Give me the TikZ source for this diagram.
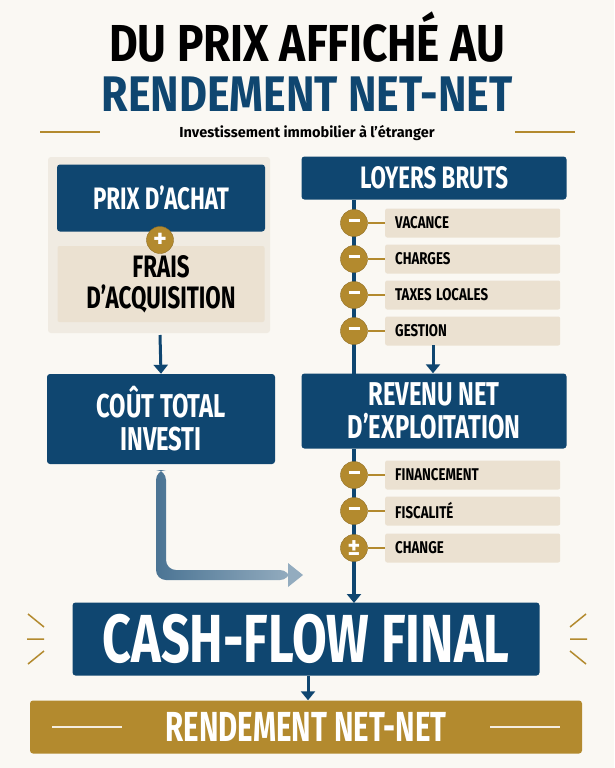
\documentclass[tikz,border=0pt]{standalone}
\usepackage{fontspec}
\setmainfont{Fira Sans}
\usetikzlibrary{arrows.meta}
\definecolor{bg}{HTML}{FAF8F3}
\definecolor{navy}{HTML}{0F4670}
\definecolor{gold}{HTML}{B38A2E}
\definecolor{panel}{HTML}{F0EBE2}
\definecolor{tan}{HTML}{EBE1D1}
\newcommand{\cnd}[2][0.75]{\scalebox{#1}[1]{#2}}
\begin{document}
\begin{tikzpicture}[x=1pt,y=-1pt,
  bluebox/.style={fill=navy,rounded corners=3pt,text=white,font=\bfseries,align=center},
  tanbox/.style={fill=tan,rounded corners=2pt,font=\bfseries\fontsize{17}{18}\selectfont,anchor=west,inner sep=0pt,align=left},
  circ/.style={circle,fill=gold,draw=gold!80!black,minimum size=27pt,inner sep=0pt,text=white},
  arr/.style={navy,line width=3pt,-{Triangle[length=9pt,width=14pt]}},
  gl/.style={gold,line width=1.5pt}]
\fill[bg] (0,0) rectangle (614,768);
\useasboundingbox (0,0) rectangle (614,768);
\node[inner sep=0pt] (t1) at (307,37) {\fontsize{52}{52}\selectfont\bfseries\cnd[0.85]{DU PRIX AFFICHÉ AU}};
\node[inner sep=0pt,text=navy] (t2) at (307,94) {\fontsize{50}{50}\selectfont\bfseries\cnd[0.86]{RENDEMENT NET-NET}};
\node[inner sep=0pt] (sub) at (307,133) {\fontsize{14.5}{15}\selectfont\bfseries Investissement immobilier à l’étranger};
\draw[gl] (40,132) -- (100,132); \draw[gl] (515,132) -- (575,132);
% left
\fill[panel,rounded corners=3pt] (48,157) rectangle (270,333);
\node[bluebox,minimum width=208pt,minimum height=67pt,font=\bfseries\fontsize{31}{33}\selectfont] (pa) at (161,198) {\cnd[0.72]{PRIX D’ACHAT}};
\node[tanbox,anchor=center,minimum width=207pt,minimum height=76pt,font=\bfseries\fontsize{31}{31}\selectfont,align=center] (fa) at (161,284) {\cnd[0.72]{FRAIS}\\\cnd[0.72]{D’ACQUISITION}};
\node[circ] (plus) at (160,240) {\fontsize{26}{26}\selectfont\bfseries +};
\node[bluebox,minimum width=228pt,minimum height=90pt,font=\bfseries\fontsize{33}{33}\selectfont] (ct) at (161,419) {\cnd[0.72]{COÛT TOTAL}\\\cnd[0.72]{INVESTI}};
\coordinate (a1) at (160,335);
\draw[arr] (a1) -- (ct.north);
% right
\node[bluebox,minimum width=265pt,minimum height=43pt,font=\bfseries\fontsize{31}{33}\selectfont] (lb) at (434,178) {\cnd[0.72]{LOYERS BRUTS}};
\node[bluebox,minimum width=265pt,minimum height=75pt,font=\bfseries\fontsize{33}{33}\selectfont] (rn) at (434,411) {\cnd[0.72]{REVENU NET}\\\cnd[0.72]{D’EXPLOITATION}};
\node[bluebox,minimum width=467pt,minimum height=73pt,font=\bfseries\fontsize{68}{68}\selectfont] (cf) at (306,639) {\cnd[0.74]{CASH-FLOW FINAL}};
\node[fill=gold,rounded corners=3pt,text=white,minimum width=552pt,minimum height=53pt,font=\bfseries\fontsize{42}{42}\selectfont] (rd) at (306,727) {\cnd[0.7]{RENDEMENT NET-NET}};
\draw[white!85!gold,line width=1.2pt] (52,727) -- (122,727) (490,727) -- (560,727);
\draw[navy,line width=4pt] (354,200) -- (354,374);
\draw[navy,line width=4pt] (354,449) -- (354,580);
\coordinate (a2) at (354,575);
\coordinate (a2e) at (354,603);
\draw[arr,line width=4pt] (a2) -- (a2e);
\foreach \y/\t/\n in {223/VACANCE/a,259/CHARGES/b,295/TAXES LOCALES/c,331/GESTION/d,475/FINANCEMENT/e,511/FISCALITÉ/f}{
  \node[circ] (c\n) at (354,\y) {\rule[5pt]{11pt}{3pt}};
  \node[tanbox,minimum height=29pt,text width=175pt] (l\n) at (385,\y) {\hspace{10pt}\cnd[0.78]{\t}};
  \draw[gold,line width=1.5pt] (c\n.east) -- (l\n.west);
}
\node[circ] (cg) at (354,548) {\fontsize{24}{24}\selectfont\bfseries ±};
\node[tanbox,minimum height=29pt,text width=175pt] (lg) at (385,548) {\hspace{10pt}\cnd[0.78]{CHANGE}};
\draw[gold,line width=1.5pt] (cg.east) -- (lg.west);
\coordinate (a3) at (433,345);
\draw[arr] (a3) -- (rn.north -| a3);
% curved arrow
\shade[left color=navy!75,right color=navy!45!white,rounded corners=10pt] (156,470) -- (166,470) -- (166,570) -- (290,570) -- (290,580) -- (156,580) -- cycle;
\coordinate (ae) at (303,575);
\fill[navy!45!white] (288,563) -- (ae) -- (288,587) -- cycle;
\coordinate (a4) at (308,676);
\draw[arr] (a4) -- (rd.north -| a4);
\foreach \s in {1,-1}{
  \begin{scope}[shift={(307,639)},xscale=\s]
  \draw[gold,line width=1.5pt] (-263,0) -- (-280,0) (-263,-12) -- (-279,-25) (-263,12) -- (-279,25);
  \end{scope}}
\end{tikzpicture}
\end{document}
